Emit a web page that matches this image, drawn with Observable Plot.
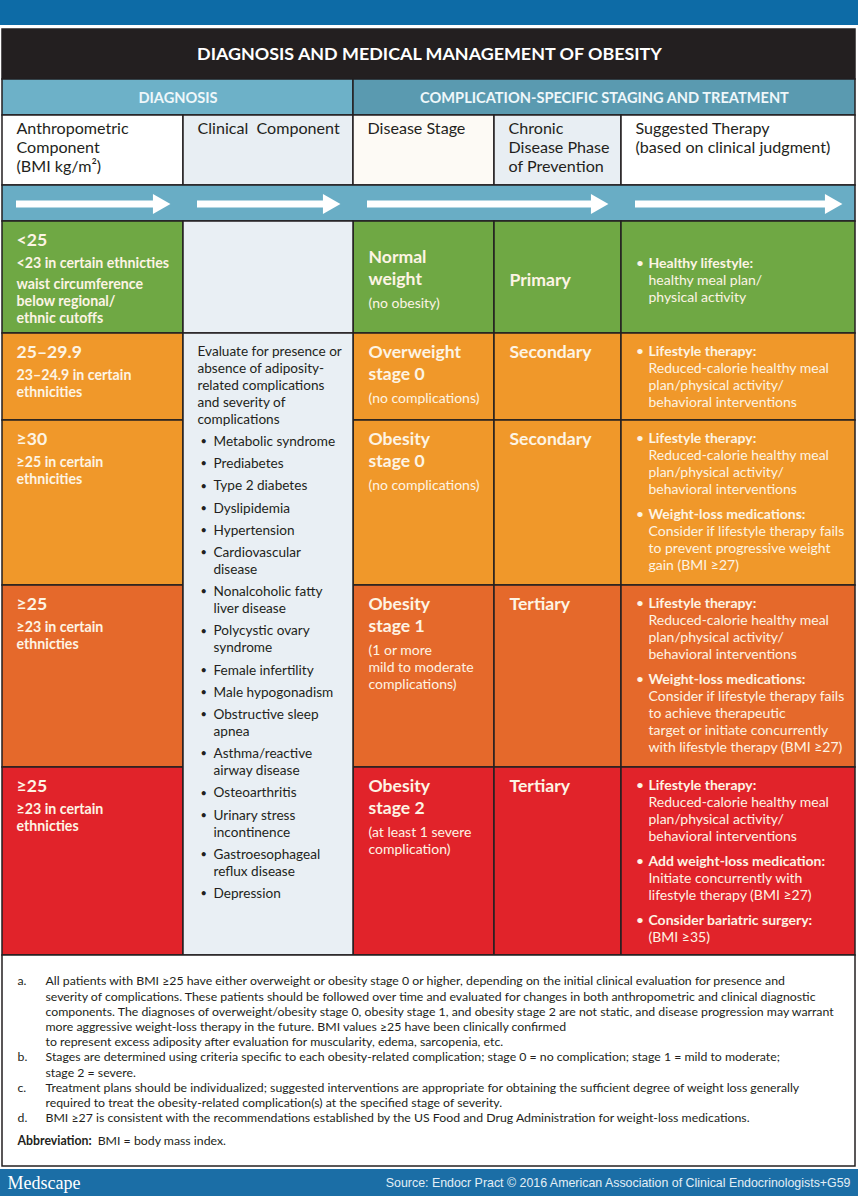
<!DOCTYPE html>
<html><head><meta charset="utf-8">
<script src="https://cdn.jsdelivr.net/npm/d3@7"></script>
<script src="https://cdn.jsdelivr.net/npm/@observablehq/plot@0.6"></script>
<style>body{margin:0;background:#fff} svg{display:block}</style>
</head><body><div id="chart"></div>
<script>
// ---------------- DATA ----------------
const title = "DIAGNOSIS AND MEDICAL MANAGEMENT OF OBESITY";
const sections = ["DIAGNOSIS", "COMPLICATION-SPECIFIC STAGING AND TREATMENT"];
const columnHeaders = [
  "Anthropometric\nComponent\n(BMI kg/m²)",
  "Clinical  Component",
  "Disease Stage",
  "Chronic\nDisease Phase\nof Prevention",
  "Suggested Therapy\n(based on clinical judgment)"
];
const rowLevels = ["normal", "overweight", "obese0", "obese1", "obese2"];
const bmiRanges = ["<25", "25–29.9", "≥30", "≥25", "≥25"];
const bmiNotes = [
  ["<23 in certain ethnicties", "waist circumference\nbelow regional/\nethnic cutoffs"],
  ["23–24.9 in certain\nethnicities"],
  ["≥25 in certain\nethnicities"],
  ["≥23 in certain\nethnicties"],
  ["≥23 in certain\nethnicties"]
];
const stages = ["Normal\nweight", "Overweight\nstage 0", "Obesity\nstage 0", "Obesity\nstage 1", "Obesity\nstage 2"];
const stageNotes = ["(no obesity)", "(no complications)", "(no complications)",
  "(1 or more\nmild to moderate\ncomplications)", "(at least 1 severe\ncomplication)"];
const phases = ["Primary", "Secondary", "Secondary", "Tertiary", "Tertiary"];
const lifestyle = ["Lifestyle therapy:", "Reduced-calorie healthy meal\nplan/physical activity/\nbehavioral interventions"];
const therapies = [
  [["Healthy lifestyle:", "healthy meal plan/\nphysical activity"]],
  [lifestyle],
  [lifestyle, ["Weight-loss medications:", "Consider if lifestyle therapy fails\nto prevent progressive weight\ngain (BMI ≥27)"]],
  [lifestyle, ["Weight-loss medications:", "Consider if lifestyle therapy fails\nto achieve therapeutic\ntarget or initiate concurrently\nwith lifestyle therapy (BMI ≥27)"]],
  [lifestyle, ["Add weight-loss medication:", "Initiate concurrently with\nlifestyle therapy (BMI ≥27)"], ["Consider bariatric surgery:", "(BMI ≥35)"]]
];
const clinicalIntro = "Evaluate for presence or\nabsence of adiposity-\nrelated complications\nand severity of\ncomplications";
const complications = ["Metabolic syndrome", "Prediabetes", "Type 2 diabetes", "Dyslipidemia", "Hypertension",
  "Cardiovascular\ndisease", "Nonalcoholic fatty\nliver disease", "Polycystic ovary\nsyndrome", "Female infertility",
  "Male hypogonadism", "Obstructive sleep\napnea", "Asthma/reactive\nairway disease", "Osteoarthritis",
  "Urinary stress\nincontinence", "Gastroesophageal\nreflux disease", "Depression"];
const footnoteLabels = ["a.", "b.", "c.", "d."];
const footnotes = [
  "All patients with BMI ≥25 have either overweight or obesity stage 0 or higher, depending on the initial clinical evaluation for presence and\nseverity of complications. These patients should be followed over time and evaluated for changes in both anthropometric and clinical diagnostic\ncomponents. The diagnoses of overweight/obesity stage 0, obesity stage 1, and obesity stage 2 are not static, and disease progression may warrant\nmore aggressive weight-loss therapy in the future. BMI values ≥25 have been clinically confirmed\nto represent excess adiposity after evaluation for muscularity, edema, sarcopenia, etc.",
  "Stages are determined using criteria specific to each obesity-related complication; stage 0 = no complication; stage 1 = mild to moderate;\nstage 2 = severe.",
  "Treatment plans should be individualized; suggested interventions are appropriate for obtaining the sufficient degree of weight loss generally\nrequired to treat the obesity-related complication(s) at the specified stage of severity.",
  "BMI ≥27 is consistent with the recommendations established by the US Food and Drug Administration for weight-loss medications."
];
const abbreviation = ["Abbreviation:", "BMI = body mass index."];
const brand = "Medscape";
const source = "Source: Endocr Pract © 2016 American Association of Clinical Endocrinologists+G59";

// ---------------- LAYOUT & STYLE ----------------
const W = 858, H = 1196;
const FONT = "Lato, 'Open Sans', sans-serif";
const colX = [2, 183, 353, 494, 621, 855];
const bands = {topBar: [0, 25], title: [29, 79], section: [79, 115], header: [115, 185],
  arrows: [185, 221], notes: [955, 1166], footer: [1169, 1196]};
const rowY = [221, 333, 420, 585, 767, 955];
const rowColor = {normal: "#6fa844", overweight: "#f0982a", obese0: "#f0982a", obese1: "#e5692b", obese2: "#e1232a"};
const INK = "#231f20", LIGHT = "#fdf4e4";
const headerFill = ["#ffffff", "#e8eef3", "#fdfaf5", "#e8eef3", "#ffffff"];
const clinicalFill = "#e9eff4";
const HEAD = 17.6, BODY = 14, NOTE1 = 14.2, FOOT = 12.3;

// ---------------- BUILD ----------------
const boxes = [];   // bordered cells
const plain = [];   // unbordered bars
const texts = [];
function T(x, y, text, size, weight, fill, anchor = "start", family = FONT) {
  texts.push({x, y, text, size, weight, fill, anchor, family});
}
const lines = s => s.split("\n");

plain.push({x1: 0, x2: W, y1: bands.topBar[0], y2: bands.topBar[1], fill: "#0d6ba6"});
plain.push({x1: 0, x2: W, y1: bands.footer[0], y2: bands.footer[1], fill: "#1b6ea6"});

// title
boxes.push({x1: colX[0], x2: colX[5], y1: bands.title[0], y2: bands.title[1], fill: INK});
T(W / 2, (bands.title[0] + bands.title[1]) / 2, title, 17.9, "bold", "#ffffff", "middle");
// sections
boxes.push({x1: colX[0], x2: colX[2], y1: bands.section[0], y2: bands.section[1], fill: "#6db1c8"});
boxes.push({x1: colX[2], x2: colX[5], y1: bands.section[0], y2: bands.section[1], fill: "#5a9ab0"});
T((colX[0] + colX[2]) / 2, 98, sections[0], 14.6, "bold", "#eef7fa", "middle");
T((colX[2] + colX[5]) / 2, 98, sections[1], 14.6, "bold", "#eef7fa", "middle");
// column headers
columnHeaders.forEach((h, c) => {
  boxes.push({x1: colX[c], x2: colX[c + 1], y1: bands.header[0], y2: bands.header[1], fill: headerFill[c]});
  lines(h).forEach((l, k) => T(colX[c] + 14, bands.header[0] + 13 + k * 19, l, 16.1, "normal", INK));
});
// arrow band
boxes.push({x1: colX[0], x2: colX[5], y1: bands.arrows[0], y2: bands.arrows[1], fill: "#69adc5"});
const arrowSpans = [[0, 1], [1, 2], [2, 4], [4, 5]];
const arrowY = (bands.arrows[0] + bands.arrows[1]) / 2 + 0.5;
const arrows = arrowSpans.map(([a, b]) => ({x1: colX[a] + 14, x2: colX[b] - 13, y: arrowY}));

// data rows
rowLevels.forEach((lvl, i) => {
  const top = rowY[i], bot = rowY[i + 1], fill = rowColor[lvl];
  [0, 2, 3, 4].forEach(c => boxes.push({x1: colX[c], x2: colX[c + 1], y1: top, y2: bot, fill}));
  const centered = i === 0;
  const mid = (top + bot) / 2 + 3;

  // col 1: BMI
  let y = top + 19;
  T(colX[0] + 14, y, bmiRanges[i], HEAD, "bold", LIGHT);
  y += 23;
  bmiNotes[i].forEach((p, pi) => {
    if (pi > 0) y += 4;
    lines(p).forEach(l => { T(colX[0] + 14, y, l, NOTE1, "bold", LIGHT); y += 17; });
  });

  // col 3: stage
  const sl = lines(stages[i]), nl = lines(stageNotes[i]);
  const blockH = (sl.length - 1) * 22 + 24 + (nl.length - 1) * 17;
  y = centered ? mid - blockH / 2 : top + 19;
  sl.forEach((l, k) => T(colX[2] + 15, y + k * 22, l, HEAD, "bold", LIGHT));
  y += (sl.length - 1) * 22 + 24;
  nl.forEach((l, k) => T(colX[2] + 15, y + k * 17, l, BODY, "normal", LIGHT));

  // col 4: phase
  T(colX[3] + 15, centered ? mid : top + 19, phases[i], HEAD, "bold", LIGHT);

  // col 5: therapy
  const th = therapies[i];
  const nLines = th.reduce((s, [h, b]) => s + 1 + lines(b).length, 0);
  const tH = (nLines - th.length) * 17 + (th.length - 1) * 25;
  y = centered ? mid - tH / 2 : top + 18;
  th.forEach(([h, b], bi) => {
    if (bi > 0) y += 25;
    T(colX[4] + 15, y, "•", 12, "bold", LIGHT);
    T(colX[4] + 27, y, h, BODY, "bold", LIGHT);
    lines(b).forEach(l => { y += 17; T(colX[4] + 27, y, l, BODY, "normal", LIGHT); });
  });
});

// clinical column
boxes.push({x1: colX[1], x2: colX[2], y1: rowY[0], y2: rowY[1], fill: clinicalFill});
boxes.push({x1: colX[1], x2: colX[2], y1: rowY[1], y2: rowY[5], fill: clinicalFill});
{
  let y = rowY[1] + 18;
  const il = lines(clinicalIntro);
  il.forEach((l, k) => { T(colX[1] + 14, y, l, 13.6, "normal", INK); if (k < il.length - 1) y += 17; });
  complications.forEach(c => {
    y += 22.2;
    T(colX[1] + 17, y, "•", 11, "normal", INK);
    lines(c).forEach((l, k) => { if (k > 0) y += 17; T(colX[1] + 30, y, l, 13.6, "normal", INK); });
  });
}

// notes
boxes.push({x1: colX[0], x2: colX[5], y1: bands.notes[0], y2: bands.notes[1], fill: "#ffffff"});
{
  let y = bands.notes[0] + 26;
  footnotes.forEach((f, i) => {
    T(17, y, footnoteLabels[i], FOOT, "normal", INK);
    lines(f).forEach((l, k) => { if (k > 0) y += 15.2; T(45, y, l, FOOT, "normal", INK); });
    y += 15.2;
  });
  y += 8;
  const ctx = document.createElement("canvas").getContext("2d");
  ctx.font = `bold ${FOOT}px ${FONT}`;
  const w = ctx.measureText(abbreviation[0]).width;
  T(17, y, abbreviation[0], FOOT, "bold", INK);
  T(17 + w + 6, y, abbreviation[1], FOOT, "normal", INK);
}

// footer
const fy = (bands.footer[0] + bands.footer[1]) / 2;
T(7, fy, brand, 18, "normal", "#ffffff", "start", "'Liberation Serif', serif");
T(850, fy, source, 12.4, "normal", "#e3eef6", "end", "'Liberation Sans', Arial, sans-serif");

// ---------------- PLOT ----------------
const groups = d3.groups(texts, d => `${d.weight}|${d.family}|${d.anchor}`);
const textMarks = groups.map(([, arr]) => Plot.text(arr, {
  x: "x", y: "y", text: "text", fontSize: "size", fill: "fill",
  fontWeight: arr[0].weight, fontFamily: arr[0].family, textAnchor: arr[0].anchor, lineAnchor: "middle"
}));

const chart = Plot.plot({
  width: W, height: H, margin: 0,
  x: {type: "linear", domain: [0, W], range: [0, W], axis: null},
  y: {type: "linear", domain: [0, H], range: [0, H], axis: null},
  color: {type: "identity"},
  style: {background: "#ffffff"},
  marks: [
    Plot.rect(plain, {x1: "x1", x2: "x2", y1: "y1", y2: "y2", fill: "fill"}),
    Plot.rect(boxes, {x1: "x1", x2: "x2", y1: "y1", y2: "y2", fill: "fill", stroke: INK, strokeWidth: 1.5}),
    Plot.ruleY(arrows, {y: "y", x1: "x1", x2: d => d.x2 - 10, stroke: "#ffffff", strokeWidth: 7}),
    Plot.dot(arrows, {x: d => d.x2 - 11.7, y: "y", symbol: "triangle", rotate: 90, r: 7.5, fill: "#ffffff", stroke: null}),
    ...textMarks
  ]
});
document.getElementById("chart").appendChild(chart);
</script>
</body></html>
